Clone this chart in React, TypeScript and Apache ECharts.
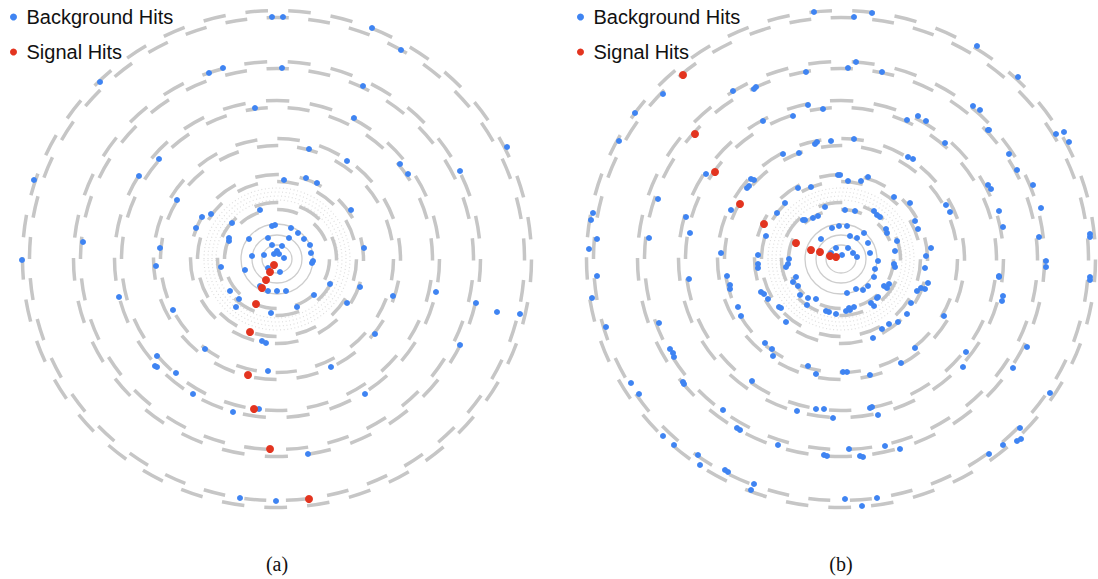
import React, { useEffect, useRef } from 'react';
import * as echarts from 'echarts';

// ---- labels ----
const seriesNames = ['Background Hits', 'Signal Hits'];
const panelCaptions = ['(a)', '(b)'];

// ---- hit positions (transverse plane, px-like units from the beam axis) ----
const leftBackground: number[][] = [
  [-5, 242], [6, 242], [95, 231], [124, 209], [-68, 186], [-54, 191], [5, 191], [-177, 177], [86, 173],
  [-22, 151], [77, 141], [230, 112], [32, 110], [-118, 100], [70, 98], [123, 95], [131, 85], [183, 88],
  [-243, 79], [-138, 83], [7, 79], [29, 81], [40, 76], [-100, 59], [74, 49], [-17, 49], [-75, 42], [-66, 45],
  [-81, 31], [-45, 36], [-5, 33], [-2, 34], [14, 31], [21, 26], [-48, 21], [-48, 18], [-28, 20], [-9, 21],
  [12, 21], [27, 20], [33, 14], [-5, 14], [5, 13], [-194, 17], [-117, 11], [87, 11], [-25, 3], [-13, 4],
  [-3, 5], [0, 8], [2, 5], [7, 1], [34, 6], [36, -2], [35, -4], [-255, -1], [-121, -7], [-56, -8], [-9, -9],
  [3, -13], [-32, -11], [-17, -27], [53, -25], [83, -28], [-47, -32], [-9, -32], [0, -32], [9, -32],
  [159, -33], [37, -36], [-38, -40], [-158, -38], [116, -37], [70, -44], [199, -44], [-41, -48], [20, -48],
  [-6, -54], [-104, -51], [220, -53], [243, -55], [98, -75], [-15, -82], [-11, -84], [183, -86], [-72, -90],
  [-120, -97], [-122, -107], [-120, -108], [-101, -114], [-9, -112], [54, -108], [88, -135], [-84, -135],
  [-44, -153], [-18, -150], [31, -195], [-37, -239], [-1, -242],
];
const leftSignal: number[][] = [
  [-3, -6], [-7, -13], [-11, -21], [-15, -29], [-21, -45], [-27, -73], [-29, -116], [-23, -150], [-7, -190], [32, -240],
];
const rightBackground: number[][] = [
  [-27, 247], [31, 246], [13, 242], [136, 213], [177, 182], [15, 197], [7, 191], [41, 187], [-35, 187],
  [-85, 172], [-87, 170], [-108, 168], [-178, 165], [-206, 146], [-33, 154], [-18, 150], [-48, 143], [-78, 138],
  [132, 153], [139, 149], [66, 139], [77, 143], [85, 138], [147, 129], [148, 129], [215, 125], [223, 127],
  [228, 117], [-222, 118], [-10, 118], [13, 120], [-26, 115], [-24, 117], [104, 116], [-42, 106], [-58, 105],
  [67, 102], [72, 100], [168, 105], [176, 89], [192, 74], [-135, 85], [-90, 80], [-87, 79], [-92, 73], [-94, 71],
  [-3, 84], [-1, 84], [27, 82], [20, 78], [7, 78], [-43, 71], [-30, 72], [147, 74], [150, 70], [53, 62], [69, 56],
  [105, 54], [109, 47], [158, 48], [200, 51], [-183, 60], [-248, 46], [-250, 39], [-244, 20], [-252, 10],
  [-56, 56], [-64, 46], [-110, 49], [-155, 42], [-151, 26], [-192, 21], [-16, 52], [4, 49], [14, 48], [33, 48],
  [-38, 39], [-36, 39], [-28, 41], [-23, 43], [36, 44], [39, 42], [74, 38], [77, 30], [90, 11], [162, 32],
  [198, 22], [249, 25], [249, 22], [205, -2], [205, -8], [158, -17], [158, -18], [162, -37], [161, -42],
  [249, -18], [249, -21], [-9, 31], [-2, 33], [6, 33], [9, 23], [16, 21], [23, 26], [-20, 20], [-30, 8],
  [-5, 11], [-10, 6], [1, 4], [7, 11], [12, 6], [16, 2], [27, 16], [29, 6], [37, -2], [34, -10], [45, 30],
  [46, 26], [56, 18], [54, 8], [53, -5], [54, -8], [85, 3], [84, -9], [87, -24], [80, -29], [76, -32], [84, -30],
  [70, -44], [66, -55], [57, -63], [48, -65], [41, -70], [32, -79], [46, -29], [48, -25], [43, -27], [36, -39],
  [37, -38], [33, -47], [30, -44], [33, -18], [27, -27], [22, -31], [15, -30], [6, -34], [13, -48], [9, -51],
  [8, -49], [5, -52], [-5, -55], [-12, -53], [-15, -52], [-25, -40], [-34, -46], [-33, -39], [-41, -36],
  [-43, -27], [-45, -18], [-48, -23], [-53, -5], [-55, -8], [-52, 0], [-75, 23], [-83, 4], [-83, -5], [-83, -9],
  [-80, -33], [-77, -35], [-73, -40], [-62, -48], [-60, -49], [-55, -63], [-114, -17], [-111, -26], [-111, -30],
  [-103, -48], [-100, -57], [-120, 6], [-152, -20], [-182, -64], [-244, -17], [-249, -39], [-235, -68],
  [-171, -90], [-168, -94], [-167, -98], [-210, -124], [-202, -135], [-158, -123], [-157, -125], [-76, -84],
  [-69, -90], [-68, -97], [-33, -107], [-25, -115], [2, -113], [6, -113], [29, -116], [60, -104], [74, -89],
  [103, -57], [125, -93], [122, -108], [172, -109], [186, -88], [209, -134], [179, -169], [180, -180],
  [176, -182], [162, -186], [148, -195], [59, -190], [44, -187], [37, -156], [29, -149], [31, -148], [8, -190],
  [-17, -150], [-25, -150], [-8, -159], [-44, -152], [-89, -122], [-118, -151], [-104, -169], [-101, -171],
  [-63, -186], [-17, -196], [-14, -197], [19, -197], [22, -198], [-178, -177], [-167, -186], [-143, -196],
  [-141, -206], [-116, -211], [-113, -213], [-87, -225], [-90, -231], [4, -240], [36, -239], [21, -247],
];
const rightSignal: number[][] = [
  [-158, 184], [-146, 125], [-126, 87], [-101, 55], [-77, 35], [-45, 16], [-30, 9], [-21, 7], [-11, 3], [-5, 2],
];

// ---- detector geometry: semi-axes [x, y] of each layer ----
const layerRadii: number[][] = [[56, 53], [83, 81], [120, 117], [159, 155], [200, 194], [251, 245]];
const innerTrackRadii: number[][] = [[15, 14], [25, 24], [36, 35]];
const fuzzRadii: number[][] = [[61, 59], [65, 63], [69, 67], [73, 71]];

const PANEL_CX = [277, 841];
const BLUE = '#3f84f2';
const RED = '#e3341f';
const RING = '#c6c6c6';

function perimeter(a: number, b: number) {
  return Math.PI * (3 * (a + b) - Math.sqrt((3 * a + b) * (a + 3 * b)));
}

function ringSeries(kind: 'layer' | 'track' | 'fuzz', data: number[][], idx: number) {
  return {
    type: 'custom',
    name: 'detector-' + kind,
    coordinateSystem: 'cartesian2d',
    xAxisIndex: idx,
    yAxisIndex: idx,
    data,
    clip: false,
    silent: true,
    z: 1,
    renderItem: (params: any, api: any) => {
      const c = api.coord([0, 0]);
      const s = api.size([api.value(0), api.value(1)]);
      const rx = s[0];
      const ry = s[1];
      if (kind === 'layer') {
        const n = Math.round(perimeter(rx, ry) / 42);
        return {
          type: 'group',
          children: [-3.5, 3.5].map((d) => {
            const p = perimeter(rx + d, ry + d) / n;
            const dash = p * 0.53;
            return {
              type: 'ellipse',
              shape: { cx: c[0], cy: c[1], rx: rx + d, ry: ry + d },
              style: {
                fill: 'none', stroke: RING, lineWidth: 3.5,
                lineDash: [dash, p - dash], lineDashOffset: d > 0 ? p / 2 : 0,
              },
            };
          }),
        };
      }
      if (kind === 'track') {
        return {
          type: 'ellipse',
          shape: { cx: c[0], cy: c[1], rx, ry },
          style: { fill: 'none', stroke: '#cdcdcd', lineWidth: 1.3 },
        };
      }
      return {
        type: 'ellipse',
        shape: { cx: c[0], cy: c[1], rx, ry },
        style: { fill: 'none', stroke: '#dedede', lineWidth: 1.2, lineDash: [1, 2.6] },
      };
    },
  };
}

function buildOption() {
  const hidden = { show: false };
  const axisCommon = { type: 'value', axisLine: hidden, axisTick: hidden, axisLabel: hidden, splitLine: hidden };

  const scatter = (name: string, data: number[][], idx: number, color: string, size: number, z: number) => ({
    name, type: 'scatter', data, xAxisIndex: idx, yAxisIndex: idx,
    symbol: 'circle', symbolSize: size, itemStyle: { color, opacity: 1 }, z, clip: false, silent: true,
  });

  const legendCommon = {
    orient: 'vertical', top: 2, itemWidth: 16, itemHeight: 7, itemGap: 15, selectedMode: false,
    icon: 'circle',
    textStyle: { fontFamily: 'Liberation Sans, Arial, sans-serif', fontSize: 20, color: '#111', lineHeight: 20 },
    data: seriesNames,
  };

  return {
    animation: false,
    backgroundColor: '#ffffff',
    grid: [
      { left: 0, top: 0, width: 554, height: 518 },
      { left: 554, top: 0, width: 544, height: 518 },
    ],
    xAxis: [
      { ...axisCommon, gridIndex: 0, min: -277, max: 277 },
      { ...axisCommon, gridIndex: 1, min: -287, max: 257 },
    ],
    yAxis: [
      { ...axisCommon, gridIndex: 0, min: -259, max: 259 },
      { ...axisCommon, gridIndex: 1, min: -259, max: 259 },
    ],
    legend: [
      { ...legendCommon, left: 5 },
      { ...legendCommon, left: 572 },
    ],
    series: [
      ringSeries('fuzz', fuzzRadii, 0),
      ringSeries('track', innerTrackRadii, 0),
      ringSeries('layer', layerRadii, 0),
      ringSeries('fuzz', fuzzRadii, 1),
      ringSeries('track', innerTrackRadii, 1),
      ringSeries('layer', layerRadii, 1),
      scatter(seriesNames[0], leftBackground, 0, BLUE, 6, 3),
      scatter(seriesNames[1], leftSignal, 0, RED, 8, 4),
      scatter(seriesNames[0], rightBackground, 1, BLUE, 6, 3),
      scatter(seriesNames[1], rightSignal, 1, RED, 8, 4),
    ],
    graphic: panelCaptions.map((t, i) => ({
      type: 'text', x: PANEL_CX[i], y: 564,
      style: { text: t, align: 'center', verticalAlign: 'middle', font: '20px "Liberation Serif", "DejaVu Serif", serif', fill: '#111' },
    })),
  };
}

export default function App() {
  const ref = useRef<HTMLDivElement>(null);
  useEffect(() => {
    if (!ref.current) return;
    const chart = echarts.init(ref.current, undefined, { renderer: 'svg' });
    chart.setOption(buildOption() as any);
    return () => chart.dispose();
  }, []);
  return (
    <div
      ref={ref}
      style={{ position: 'fixed', left: 0, top: 0, width: 1098, height: 579, background: '#fff' }}
    />
  );
}
